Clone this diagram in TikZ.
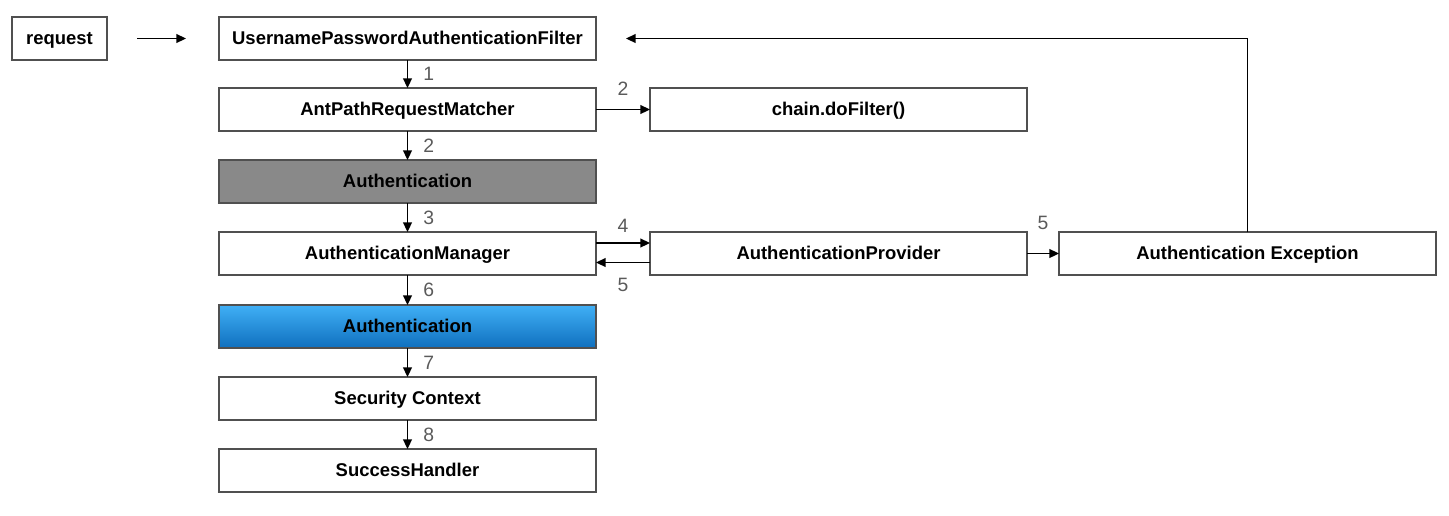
\documentclass[tikz,border=0pt]{standalone}
\usepackage{fontspec}
\setmainfont{Liberation Sans}
\usepackage{xcolor}
\definecolor{edgedark}{HTML}{1A1A1A}
\definecolor{edgelight}{HTML}{505050}
\definecolor{authgray}{HTML}{898989}
\definecolor{authtop}{HTML}{40B0F6}
\definecolor{authbot}{HTML}{0F6FBE}
\definecolor{stepnum}{HTML}{5A5A5A}
\usepackage{tikz}
\usetikzlibrary{arrows.meta, positioning, calc}
\tikzset{
  flowbox/.style={
    draw=edgelight, fill=white,
    line width=0.7pt,
    text=black, font=\fontsize{10.5pt}{12pt}\selectfont\bfseries,
    inner sep=0pt, outer sep=0pt, align=center,
    text height=0.72em, text depth=0pt,
    minimum width=7.54cm, minimum height=0.86cm,
    append after command={\pgfextra{
      \draw[edgedark, line width=1.3pt, line cap=round]
        (\tikzlastnode.north east) -- (\tikzlastnode.south east)
        -- (\tikzlastnode.south west);}},
  },
  flow/.style={-{Triangle[length=5.5pt, width=5pt]}, line width=1pt, black},
  stepno/.style={font=\fontsize{11pt}{13pt}\selectfont, text=stepnum, inner sep=0pt},
}

\begin{document}
\begin{tikzpicture}
  \useasboundingbox (0,0) rectangle (28.98,-10.3);

  % Main chain
  \node[flowbox, minimum width=1.9cm] (request) at (1.19,-0.77) {request};
  \node[flowbox, right=2.24cm of request] (filter)
    {UsernamePasswordAuthenticationFilter};
  \node[flowbox, below=0.56cm of filter] (matcher) {AntPathRequestMatcher};
  \node[flowbox, below=0.58cm of matcher, fill=authgray] (authin) {Authentication};
  \node[flowbox, below=0.58cm of authin] (manager) {AuthenticationManager};
  \node[flowbox, below=0.6cm of manager, top color=authtop, bottom color=authbot]
    (authout) {Authentication};
  \node[flowbox, below=0.58cm of authout] (context) {Security Context};
  \node[flowbox, below=0.58cm of context] (success) {SuccessHandler};

  % Side branches
  \node[flowbox, right=1.08cm of matcher] (dofilter) {chain.doFilter()};
  \node[flowbox, right=1.08cm of manager] (provider) {AuthenticationProvider};
  \node[flowbox, right=0.64cm of provider] (authexc) {Authentication Exception};

  % request -> filter
  \draw[flow, shorten <=0.6cm, shorten >=0.66cm] (request) -- (filter);

  % Vertical steps
  \draw[flow] (filter) -- (matcher)
    node[midway, right=0.3cm, stepno] {1};
  \draw[flow] (matcher) -- (authin)
    node[midway, right=0.3cm, stepno] {2};
  \draw[flow] (authin) -- (manager)
    node[midway, right=0.3cm, stepno] {3};
  \draw[flow] (manager) -- (authout)
    node[midway, right=0.3cm, stepno] {6};
  \draw[flow] (authout) -- (context)
    node[midway, right=0.3cm, stepno] {7};
  \draw[flow] (context) -- (success)
    node[midway, right=0.3cm, stepno] {8};

  % matcher -> chain.doFilter()
  \draw[flow] (matcher) -- (dofilter)
    node[midway, above=0.26cm, stepno] {2};

  % manager <-> provider
  \draw[flow] ([yshift=0.21cm]manager.east) -- ([yshift=0.21cm]provider.west)
    node[midway, above=0.2cm, stepno] {4};
  \draw[flow] ([yshift=-0.18cm]provider.west) -- ([yshift=-0.18cm]manager.east)
    node[midway, below=0.3cm, stepno] {5};

  % provider -> exception
  \draw[flow] (provider) -- (authexc)
    node[midway, above=0.46cm, stepno] {5};

  % exception back to filter
  \draw[flow, shorten >=0.6cm] (authexc.north) |- (filter.east);

\end{tikzpicture}
\end{document}
